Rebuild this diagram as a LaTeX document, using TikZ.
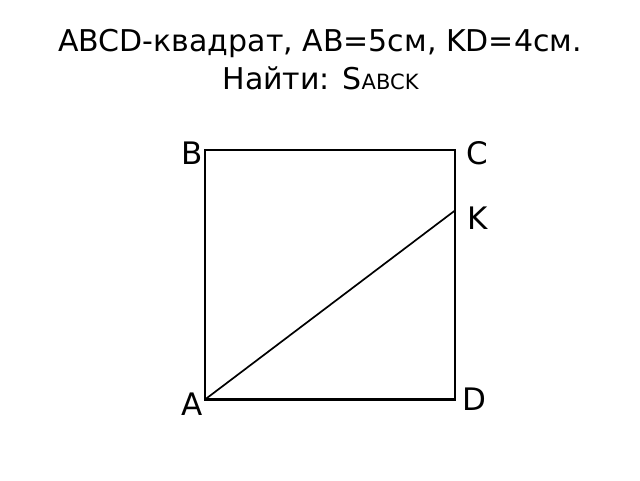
\documentclass[tikz,border=0pt]{standalone}
\usepackage{fontspec}
\setmainfont{DejaVu Sans}
\begin{document}
\begin{tikzpicture}[x=1pt,y=1pt,
  lbl/.style={anchor=base,inner sep=0pt,font=\fontsize{31}{35}\selectfont},
  ttl/.style={anchor=base,inner sep=0pt,font=\fontsize{30}{35}\selectfont},
  side/.style={line width=2.4pt,line join=miter},
  seg/.style={line width=1.7pt}]
\useasboundingbox (0,0) rectangle (640,480);
\coordinate (A) at (205,80.5);
\coordinate (B) at (205,330);
\coordinate (C) at (455,330);
\coordinate (D) at (455,80.5);
\coordinate (K) at (455,269.5);
\draw[side] (A) -- (B) -- (C) -- (D) -- cycle;
\draw[seg] (A) -- (K);
\node[lbl] (lB) at (192.5,315.5) {B};
\node[lbl] (lC) at (477.5,315.5) {C};
\node[lbl] (lK) at (477.7,250) {K};
\node[lbl] (lD) at (474,69.5) {D};
\node[lbl] (lA) at (192.5,65) {A};
\node[ttl] (t1) at (320,428.5) {ABCD-квадрат, AB=5см, KD=4см.};
\node[ttl] (t2) at (320.5,390) {Найти: S{\fontsize{21}{24}\selectfont ABCK}};
\end{tikzpicture}
\end{document}
